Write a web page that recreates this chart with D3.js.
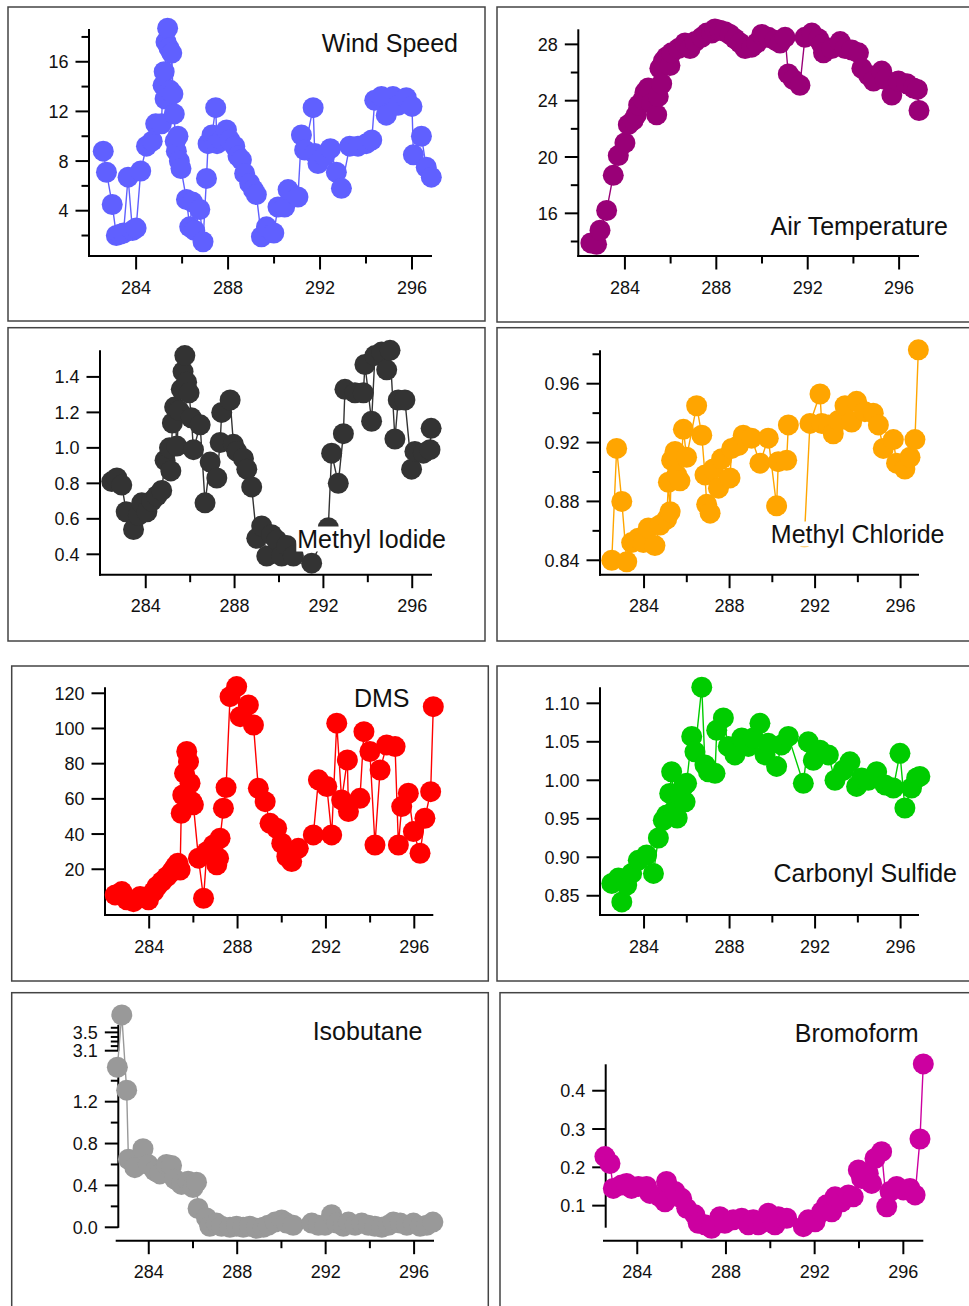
<!DOCTYPE html>
<html><head><meta charset="utf-8">
<script src="https://cdn.jsdelivr.net/npm/d3@7"></script>
<style>body{margin:0;background:#fff;} svg{display:block;font-family:"Liberation Sans",Arial,sans-serif;}</style>
</head><body><svg id="c" width="969" height="1306"></svg>
<script>
// ---------- data: [day of year, value]; null = gap ----------
const xTicks = [284, 288, 292, 296];
const xMinorTicks = [286, 290, 294];

const windSpeed = [[282.57,8.8],[282.71,7.1],[282.96,4.5],[283.14,2.0],[283.3,2.1],[283.45,2.2],[283.65,6.7],[283.84,2.4],[284.0,2.6],[284.2,7.2],[284.45,9.2],[284.7,9.6],[284.85,11.0],[285.1,11.0],[285.17,14.1],[285.22,15.2],[285.26,13.0],[285.3,17.6],[285.37,18.7],[285.43,17.1],[285.48,13.7],[285.55,16.7],[285.6,13.4],[285.66,11.8],[285.7,9.6],[285.75,8.8],[285.82,10.0],[285.88,8.0],[285.95,7.4],[286.19,4.9],[286.33,2.7],[286.45,4.7],[286.55,2.4],[286.77,4.1],[286.91,1.5],[287.06,6.6],[287.13,9.4],[287.3,10.1],[287.46,12.3],[287.52,9.4],[287.71,9.7],[287.93,10.5],[288.07,9.7],[288.29,9.2],[288.43,8.4],[288.58,8.1],[288.72,7.0],[288.94,6.2],[289.1,5.7],[289.23,5.3],[289.45,1.9],[289.67,2.7],[289.99,2.2],[290.17,4.3],[290.46,4.3],[290.61,5.7],[291.04,5.1],[291.19,10.1],[291.33,8.9],[291.7,12.3],[291.77,8.6],[291.91,7.8],[292.2,8.4],[292.45,9.0],[292.71,7.1],[292.93,5.8],[293.29,9.2],[293.65,9.2],[294.01,9.4],[294.25,9.7],[294.38,12.9],[294.67,13.2],[294.88,11.7],[295.17,13.2],[295.39,12.5],[295.75,13.1],[296.0,12.4],[296.06,8.5],[296.41,10.0],[296.62,7.5],[296.84,6.7]];
const windTicks = [4, 8, 12, 16];
const windMinor = [2, 6, 10, 14, 18];

const airTemperature = [[282.51,13.9],[282.76,13.8],[282.91,14.8],[283.2,16.2],[283.49,18.7],[283.71,20.1],[284.0,21.0],[284.15,22.3],[284.36,22.6],[284.5,23.0],[284.6,23.7],[284.8,24.1],[284.88,24.6],[285.02,24.9],[285.17,23.8],[285.39,23.0],[285.46,24.3],[285.53,26.3],[285.61,25.2],[285.68,26.8],[285.82,27.1],[285.97,26.5],[286.04,27.4],[286.34,27.7],[286.63,28.1],[286.85,27.7],[287.07,28.2],[287.36,28.5],[287.58,28.8],[287.8,28.8],[287.94,29.1],[288.16,29.0],[288.38,28.9],[288.6,28.7],[288.82,28.4],[289.04,28.1],[289.26,27.7],[289.55,27.8],[289.77,28.1],[289.99,28.7],[290.28,28.5],[290.57,28.3],[290.79,28.1],[291.01,28.5],[291.15,25.9],[291.37,25.5],[291.66,25.1],[291.88,28.5],[292.18,28.8],[292.47,28.4],[292.61,28.0],[292.69,27.4],[293.05,27.7],[293.42,28.2],[293.64,27.7],[293.93,27.6],[294.22,27.4],[294.37,26.3],[294.66,25.8],[294.88,25.4],[295.24,26.1],[295.39,25.5],[295.68,24.4],[295.97,25.4],[296.34,25.2],[296.63,24.9],[296.8,24.8],[296.87,23.3]];
const airTicks = [16, 20, 24, 28];
const airMinor = [14, 18, 22, 26];

const methylIodide = [[282.47,0.81],[282.7,0.83],[282.92,0.79],[283.12,0.64],[283.45,0.54],[283.67,0.62],[283.82,0.69],[284.05,0.64],[284.27,0.70],[284.5,0.73],[284.72,0.76],[284.87,0.93],[285.07,1.00],[285.13,0.87],[285.2,1.14],[285.3,1.23],[285.4,1.01],[285.5,1.21],[285.6,1.33],[285.68,1.43],[285.76,1.52],[285.84,1.37],[285.95,1.31],[286.05,1.17],[286.15,0.99],[286.45,1.13],[286.67,0.69],[286.9,0.92],[287.2,0.83],[287.35,1.03],[287.42,1.20],[287.8,1.27],[287.95,1.02],[288.1,0.98],[288.4,0.94],[288.55,0.88],[288.77,0.78],[289.0,0.49],[289.22,0.56],[289.45,0.39],[289.67,0.51],[289.9,0.48],[290.12,0.39],[290.35,0.45],[290.65,0.39],[291.47,0.35],[292.22,0.55],[292.37,0.97],[292.67,0.80],[292.9,1.08],[292.97,1.33],[293.42,1.31],[293.8,1.31],[293.87,1.47],[294.17,1.15],[294.32,1.52],[294.62,1.54],[294.85,1.44],[295.0,1.55],[295.22,1.05],[295.37,1.27],[295.67,1.27],[295.97,0.88],[296.12,0.98],[296.5,0.97],[296.8,0.99],[296.85,1.11]];
const iodideTicks = [0.4, 0.6, 0.8, 1.0, 1.2, 1.4];

const methylChloride = [[282.49,0.840],[282.72,0.916],[282.96,0.880],[283.19,0.839],[283.42,0.852],[283.73,0.855],[283.97,0.852],[284.2,0.862],[284.51,0.850],[284.75,0.864],[285.06,0.868],[285.14,0.893],[285.22,0.873],[285.29,0.908],[285.45,0.914],[285.53,0.898],[285.68,0.894],[285.84,0.929],[285.99,0.910],[286.46,0.945],[286.7,0.925],[286.85,0.898],[286.93,0.878],[287.09,0.872],[287.24,0.902],[287.48,0.889],[287.63,0.909],[288.02,0.896],[288.1,0.916],[288.41,0.918],[288.64,0.925],[289.03,0.923],[289.42,0.906],[289.81,0.923],[290.2,0.877],[290.28,0.907],[290.67,0.908],[290.75,0.932],null,[291.5,0.856],[291.76,0.933],[292.23,0.953],[292.31,0.933],[292.62,0.932],[292.85,0.926],[293.09,0.935],[293.4,0.945],[293.71,0.934],[293.94,0.948],[294.33,0.941],[294.72,0.940],[294.96,0.932],[295.19,0.916],[295.66,0.922],[295.81,0.906],[296.2,0.902],[296.44,0.910],[296.67,0.922],[296.83,0.983]];
const chlorideTicks = [0.84, 0.88, 0.92, 0.96];
const chlorideMinor = [0.86, 0.90, 0.94, 0.98];

const dms = [[282.46,5.4],[282.76,7.3],[282.99,2.6],[283.29,1.6],[283.59,4.5],[283.97,2.6],[284.2,7.3],[284.35,10.2],[284.57,13.0],[284.8,15.8],[285.03,18.7],[285.18,21.5],[285.3,23.4],[285.4,19.6],[285.45,51.8],[285.52,62.2],[285.6,74.5],[285.7,86.9],[285.78,81.2],[285.85,68.9],[285.93,58.4],[286.0,56.6],[286.23,26.3],[286.46,3.5],[286.61,30.0],[286.91,33.8],[287.06,22.5],[287.14,26.3],[287.21,37.6],[287.36,54.7],[287.48,66.4],[287.66,118.1],[287.96,123.8],[288.12,106.7],[288.49,113.4],[288.72,102.0],[288.94,66.0],[289.25,58.4],[289.47,46.1],[289.77,43.3],[290.0,34.8],[290.23,27.2],[290.45,24.4],[290.75,31.9],[291.43,39.5],[291.66,70.8],[292.04,67.0],[292.26,39.5],[292.49,103.0],[292.71,59.4],[292.97,82.1],[293.02,52.8],[293.54,60.3],[293.72,98.2],[293.99,86.9],[294.22,33.8],[294.45,76.4],[294.75,90.6],[295.13,89.7],[295.28,33.8],[295.43,55.6],[295.73,63.2],[295.96,41.4],[296.26,29.1],[296.48,49.0],[296.74,64.1],[296.86,112.4]];
const dmsTicks = [20, 40, 60, 80, 100, 120];

const carbonylSulfide = [[282.49,0.866],[282.8,0.873],[282.96,0.842],[283.19,0.864],[283.42,0.879],[283.73,0.896],[284.12,0.903],[284.44,0.879],[284.67,0.925],[284.9,0.948],[285.06,0.955],[285.2,0.983],[285.29,1.011],[285.4,0.961],[285.55,0.951],[285.7,0.977],[285.84,0.992],[285.92,0.972],[285.99,0.996],[286.23,1.057],[286.38,1.037],[286.7,1.121],[286.85,1.020],[287.01,1.011],[287.32,1.009],[287.4,1.065],[287.71,1.081],[287.94,1.044],[288.25,1.033],[288.57,1.055],[288.88,1.044],[289.11,1.055],[289.42,1.074],[289.66,1.033],[289.81,1.048],[290.2,1.018],[290.43,1.046],[290.75,1.057],[291.45,0.996],[291.68,1.050],[291.92,1.026],[292.23,1.039],[292.62,1.033],[292.93,1.000],[293.32,1.013],[293.63,1.024],[293.94,0.992],[294.18,1.003],[294.49,1.000],[294.88,1.011],[295.27,0.994],[295.66,0.990],[295.97,1.035],[296.2,0.964],[296.51,0.990],[296.75,1.003],[296.9,1.005]];
const cosTicks = [0.85, 0.90, 0.95, 1.00, 1.05, 1.10];

const isobutane = [[282.58,2.0],[282.78,3.88],[283.0,1.31],[283.08,0.65],[283.37,0.57],[283.74,0.75],[283.97,0.60],[284.27,0.54],[284.5,0.51],[284.8,0.60],[285.03,0.59],[285.18,0.46],[285.48,0.41],[285.78,0.44],[286.0,0.38],[286.16,0.43],[286.23,0.18],[286.61,0.09],[286.76,0.01],[287.06,0.04],[287.29,0.01],[287.67,0.0],[287.97,0.01],[288.27,0.0],[288.57,0.01],[288.88,-0.01],[289.18,0.0],[289.4,0.02],[289.71,0.05],[290.01,0.07],[290.23,0.04],[290.53,0.02],null,[291.37,0.04],[291.67,0.02],[291.97,0.02],[292.27,0.12],[292.5,0.04],[292.8,0.01],[293.03,0.05],[293.33,0.02],[293.63,0.04],[293.93,0.02],[294.23,0.01],[294.54,0.0],[294.84,0.02],[295.06,0.05],[295.37,0.04],[295.67,0.02],[295.97,0.04],[296.27,0.01],[296.57,0.02],[296.85,0.05]];
const isoTicksLow = [0.0, 0.4, 0.8, 1.2];
const isoMinorLow = [0.2, 0.6, 1.0, 1.4];
const isoTicksHigh = [3.1, 3.5];
const isoMinorHigh = [3.2, 3.3, 3.4, 3.6];

const bromoform = [[282.54,0.228],[282.77,0.210],[282.92,0.145],[283.29,0.154],[283.52,0.158],[283.74,0.145],[284.05,0.150],[284.42,0.150],[284.57,0.132],[285.02,0.123],[285.25,0.110],[285.32,0.163],[285.7,0.137],[286.0,0.119],[286.23,0.093],[286.6,0.076],[286.75,0.054],[287.05,0.050],[287.35,0.041],[287.73,0.071],[287.95,0.054],[288.33,0.063],[288.71,0.067],[289.01,0.050],[289.23,0.063],[289.46,0.050],[289.68,0.058],[289.91,0.080],[290.21,0.050],[290.36,0.071],[290.74,0.067],[291.49,0.045],[291.71,0.063],[292.02,0.058],[292.32,0.084],[292.54,0.102],[292.77,0.084],[292.92,0.123],[293.22,0.110],[293.52,0.128],[293.74,0.123],[293.97,0.193],[294.12,0.171],[294.42,0.184],[294.57,0.158],[294.72,0.223],[295.02,0.241],[295.25,0.097],[295.4,0.137],[295.7,0.150],[296.0,0.141],[296.3,0.145],[296.53,0.128],[296.75,0.274],[296.9,0.470]];
const bromoTicks = [0.1, 0.2, 0.3, 0.4];

// ---------- layout ----------
const panels = [
  {title:"Wind Speed", data:windSpeed, color:"#6060ff", box:[8,7,485,321], yAx:89, xAxY:256, xr:[89,432], xd:[281.95,296.87], yr:[256,29], yd:[0.35,18.64], ticks:windTicks, minor:windMinor, fmt:d3.format("d"), tx:458, ty:51.5},
  {title:"Air Temperature", data:airTemperature, color:"#990077", box:[497,7,980,322], yAx:578.3, xAxY:256, xr:[578.3,919], xd:[281.96,296.87], yr:[256,29.3], yd:[12.97,29.07], ticks:airTicks, minor:airMinor, fmt:d3.format("d"), tx:948, ty:235},
  {title:"Methyl Iodide", data:methylIodide, color:"#333333", box:[8,327.7,485,641], yAx:100, xAxY:574.7, xr:[100,432], xd:[281.94,296.89], yr:[574.7,350.3], yd:[0.285,1.55], ticks:iodideTicks, minor:[], fmt:d3.format(".1f"), tx:446, ty:547.5},
  {title:"Methyl Chloride", data:methylChloride, color:"#ffa500", box:[497,327.7,980,641], yAx:600, xAxY:574.7, xr:[600,919], xd:[281.94,296.86], yr:[574.7,350.3], yd:[0.8302,0.9827], ticks:chlorideTicks, minor:chlorideMinor, fmt:d3.format(".2f"), tx:944.5, ty:542.5},
  {title:"DMS", data:dms, color:"#ff0000", box:[11.7,666,488.3,981], yAx:105, xAxY:915, xr:[105,433.3], xd:[282.0,296.86], yr:[915,687.3], yd:[-6,123.4], ticks:dmsTicks, minor:[], fmt:d3.format("d"), tx:409.5, ty:706.5},
  {title:"Carbonyl Sulfide", data:carbonylSulfide, color:"#00cc00", box:[497,666,980,981], yAx:600, xAxY:915, xr:[600,919], xd:[281.94,296.86], yr:[915,687.3], yd:[0.825,1.1208], ticks:cosTicks, minor:[], fmt:d3.format(".2f"), tx:957, ty:882},
  {title:"Isobutane", data:isobutane, color:"#999999", box:[11.7,992.7,488.3,1315], yAx:118.3, xAxY:1240.7, xr:[116.7,434], xd:[282.55,296.9], broken:true, tx:422.5, ty:1040},
  {title:"Bromoform", data:bromoform, color:"#cc00a0", box:[500,992.7,980,1315], yAx:605.7, xAxY:1240.7, xr:[604,923.3], xd:[282.5,296.9], yr:[1226.7,1064.3], yd:[0.045,0.469], ticks:bromoTicks, minor:[], fmt:d3.format(".1f"), tx:918.5, ty:1042}
];

const svg = d3.select("#c");
const MAJ = 13.5, MIN = 7.5, R = 10.5;

panels.forEach(p => {
  const g = svg.append("g");
  g.append("rect").attr("x", p.box[0]).attr("y", p.box[1])
    .attr("width", p.box[2]-p.box[0]).attr("height", p.box[3]-p.box[1])
    .attr("fill", "none").attr("stroke", "#444").attr("stroke-width", 1.5);

  const x = d3.scaleLinear().domain(p.xd).range(p.xr);
  let y;
  if (p.broken) {
    y = d3.scaleLinear().domain([0, 1.45, 3.1, 3.7]).range([1227.3, 1075.5, 1050.7, 1023.2]);
  } else {
    y = d3.scaleLinear().domain(p.yd).range(p.yr);
  }

  // x axis
  const xa = g.append("g").attr("transform", `translate(0,${p.xAxY})`);
  xa.append("line").attr("x1", p.xr[0]-1).attr("x2", p.xr[1]).attr("stroke", "#000").attr("stroke-width", 2);
  xa.selectAll(".mj").data(xTicks).join("line").attr("x1", d => x(d)).attr("x2", d => x(d))
    .attr("y1", 0).attr("y2", MAJ).attr("stroke", "#000").attr("stroke-width", 2);
  xa.selectAll(".mn").data(xMinorTicks).join("line").attr("x1", d => x(d)).attr("x2", d => x(d))
    .attr("y1", 0).attr("y2", MIN).attr("stroke", "#000").attr("stroke-width", 2);
  xa.selectAll("text").data(xTicks).join("text").attr("x", d => x(d)).attr("y", 37.5)
    .attr("text-anchor", "middle").attr("font-size", 18).attr("fill", "#111").text(d => d);

  // y axis
  const ya = g.append("g").attr("transform", `translate(${p.yAx},0)`);
  const yTickSet = (maj, mn, fmt) => {
    ya.append("g").selectAll("line").data(maj).join("line").attr("x1", 0).attr("x2", -MAJ)
      .attr("y1", d => y(d)).attr("y2", d => y(d)).attr("stroke", "#000").attr("stroke-width", 2);
    ya.append("g").selectAll("line").data(mn).join("line").attr("x1", 0).attr("x2", -MIN)
      .attr("y1", d => y(d)).attr("y2", d => y(d)).attr("stroke", "#000").attr("stroke-width", 2);
    ya.append("g").selectAll("text").data(maj).join("text").attr("x", -20.5).attr("y", d => y(d) + 6.5)
      .attr("text-anchor", "end").attr("font-size", 18).attr("fill", "#111").text(d => fmt(d));
  };
  if (p.broken) {
    ya.append("line").attr("y1", y(-0.005)).attr("y2", y(1.45)).attr("stroke", "#000").attr("stroke-width", 2);
    ya.append("line").attr("y1", y(3.1)).attr("y2", y(3.66)).attr("stroke", "#000").attr("stroke-width", 2);
    yTickSet(isoTicksLow, isoMinorLow, d3.format(".1f"));
    yTickSet(isoTicksHigh, isoMinorHigh, d3.format(".1f"));
  } else {
    ya.append("line").attr("y1", p.yr[0] + 1).attr("y2", p.yr[1]).attr("stroke", "#000").attr("stroke-width", 2);
    yTickSet(p.ticks, p.minor, p.fmt);
  }

  // series
  const line = d3.line().defined(d => d !== null).x(d => x(d[0])).y(d => y(d[1]));
  g.append("path").datum(p.data).attr("d", line).attr("fill", "none")
    .attr("stroke", p.color).attr("stroke-width", 1.4);
  g.append("g").selectAll("circle").data(p.data.filter(d => d !== null)).join("circle")
    .attr("cx", d => x(d[0])).attr("cy", d => y(d[1])).attr("r", R).attr("fill", p.color);

  // title with white backing
  const tg = g.append("g");
  const t = tg.append("text").attr("x", p.tx).attr("y", p.ty).attr("text-anchor", "end")
    .attr("font-size", 25).attr("fill", "#111").text(p.title);
  const bb = t.node().getBBox();
  tg.insert("rect", "text").attr("x", bb.x - 1).attr("y", bb.y + 2).attr("width", bb.width + 2)
    .attr("height", bb.height - 3).attr("fill", "#fff");
});
</script></body></html>
